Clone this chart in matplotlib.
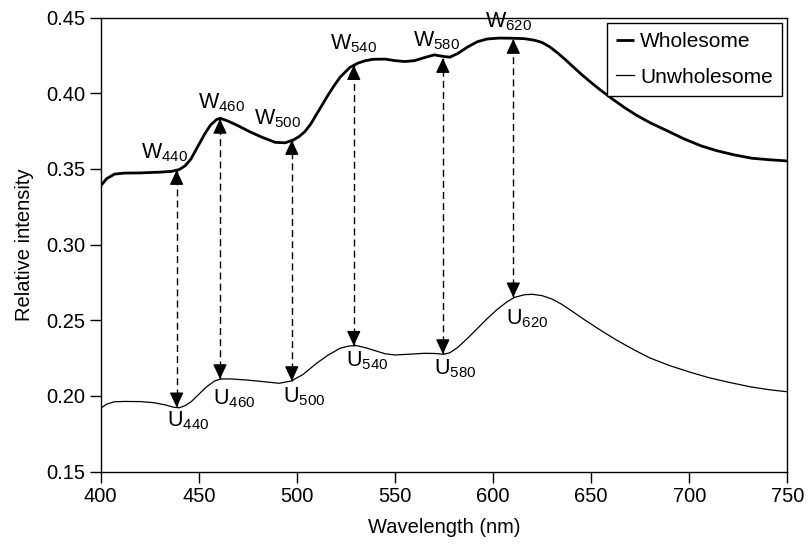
import matplotlib
matplotlib.use("Agg")
import matplotlib.pyplot as plt
import numpy as np

plt.rcParams['font.family'] = ['Liberation Sans', 'DejaVu Sans']
plt.rcParams['mathtext.fontset'] = 'custom'
plt.rcParams['mathtext.rm'] = 'Liberation Sans'

# Wholesome spectrum
w_x = [400, 403, 407, 412, 420, 430, 436, 440, 443, 446, 450, 453, 456, 459, 461,
       465, 470, 476, 482, 489, 494, 498, 501, 504, 507, 510, 513, 516, 519, 522,
       527, 531, 535, 539, 545, 550, 555, 560, 565, 570, 575, 578, 582, 587, 592,
       597, 603, 610, 616, 621, 625, 629, 633, 637, 641, 645, 650, 655, 661, 667,
       673, 680, 689, 697, 706, 714, 723, 732, 741, 750]
w_y = [0.3387, 0.3435, 0.3465, 0.3472, 0.3473, 0.3478, 0.3483, 0.3495, 0.3520, 0.3565,
       0.3660, 0.3730, 0.3790, 0.3825, 0.3834, 0.3815, 0.3785, 0.3745, 0.3710, 0.3675,
       0.3672, 0.3690, 0.3712, 0.3745, 0.3795, 0.3860, 0.3925, 0.3990, 0.4050, 0.4105,
       0.4170, 0.4198, 0.4215, 0.4224, 0.4225, 0.4215, 0.4209, 0.4215, 0.4235, 0.4253,
       0.4242, 0.4238, 0.4262, 0.4305, 0.4340, 0.4358, 0.4364, 0.4363, 0.4360, 0.4350,
       0.4335, 0.4305, 0.4265, 0.4220, 0.4172, 0.4125, 0.4070, 0.4018, 0.3960, 0.3905,
       0.3855, 0.3805, 0.3750, 0.3700, 0.3652, 0.3620, 0.3592, 0.3570, 0.3560, 0.3552]

# Unwholesome spectrum
u_x = [400, 403, 407, 412, 420, 427, 433, 437, 440, 443, 446, 450, 454, 458, 461,
       466, 474, 482, 491, 497, 503, 510, 516, 522, 526, 530, 535, 540, 545, 550,
       557, 565, 570, 575, 578, 582, 587, 592, 597, 602, 607, 611, 616, 620, 625,
       630, 635, 640, 646, 655, 663, 672, 680, 690, 700, 710, 720, 731, 741, 750]
u_y = [0.1918, 0.1945, 0.1961, 0.1963, 0.1962, 0.1955, 0.1940, 0.1925, 0.1921, 0.1935,
       0.1960, 0.2010, 0.2060, 0.2098, 0.2111, 0.2112, 0.2105, 0.2095, 0.2083, 0.2098,
       0.2140, 0.2215, 0.2270, 0.2314, 0.2328, 0.2333, 0.2318, 0.2298, 0.2278, 0.2270,
       0.2275, 0.2281, 0.2280, 0.2275, 0.2285, 0.2320, 0.2380, 0.2445, 0.2510, 0.2570,
       0.2620, 0.2651, 0.2668, 0.2671, 0.2662, 0.2640, 0.2605, 0.2562, 0.2508, 0.2432,
       0.2368, 0.2303, 0.2250, 0.2200, 0.2158, 0.2120, 0.2090, 0.2060, 0.2040, 0.2027]

# Marked wavelengths: arrow position, top and bottom tip
mark_names = ["440", "460", "500", "540", "580", "620"]
arrow_x = [438.7, 460.8, 497.4, 529.0, 574.4, 610.3]
arrow_top = [0.3492, 0.3830, 0.3690, 0.4185, 0.4232, 0.4358]
arrow_bot = [0.1924, 0.2111, 0.2098, 0.2331, 0.2276, 0.2651]

# Label centres
w_lab_x = [432.5, 461.7, 490.3, 529.0, 571.4, 607.8]
w_lab_y = [0.3605, 0.3940, 0.3830, 0.4325, 0.4350, 0.4470]
u_lab_x = [444.7, 468.0, 503.6, 535.6, 580.6, 617.6]
u_lab_y = [0.1835, 0.1980, 0.1995, 0.2230, 0.2177, 0.2508]

fig = plt.figure(figsize=(8.09, 5.47), dpi=100)
ax = fig.add_axes([0.1245, 0.138, 0.8487, 0.830])

ax.plot(w_x, w_y, color="black", lw=2.0, label="Wholesome", solid_capstyle="butt")
ax.plot(u_x, u_y, color="black", lw=0.9, label="Unwholesome")

head = "-|>,head_length=0.9,head_width=0.42"
for x, top, bot in zip(arrow_x, arrow_top, arrow_bot):
    ax.plot([x, x], [bot, top], color="black", lw=1.0, linestyle=(0, (5, 3)))
    ax.annotate("", xy=(x, top), xytext=(0, -9), textcoords="offset points",
                arrowprops=dict(arrowstyle=head, color="black", lw=1.0,
                                shrinkA=0, shrinkB=0, mutation_scale=10))
    ax.annotate("", xy=(x, bot), xytext=(0, 9), textcoords="offset points",
                arrowprops=dict(arrowstyle=head, color="black", lw=1.0,
                                shrinkA=0, shrinkB=0, mutation_scale=10))

for name, x, y in zip(mark_names, w_lab_x, w_lab_y):
    ax.text(x, y, r"$\mathregular{W_{%s}}$" % name, ha="center", va="center",
            fontsize=15.5, clip_on=False)
for name, x, y in zip(mark_names, u_lab_x, u_lab_y):
    ax.text(x, y, r"$\mathregular{U_{%s}}$" % name, ha="center", va="center",
            fontsize=15.5)

ax.set_xlim(400, 750)
ax.set_ylim(0.15, 0.45)
ax.set_xticks(np.arange(400, 751, 50))
ax.set_yticks(np.arange(0.15, 0.451, 0.05))
ax.set_yticklabels(["%.2f" % v for v in np.arange(0.15, 0.451, 0.05)])
ax.tick_params(direction="out", length=8, width=1, labelsize=14.5, pad=3)
for s in ax.spines.values():
    s.set_linewidth(1.0)

ax.set_xlabel("Wavelength (nm)", fontsize=14.5, labelpad=9)
ax.set_ylabel("Relative intensity", fontsize=14.5, labelpad=9)

leg = ax.legend(loc="upper right", fontsize=15, fancybox=False, framealpha=1,
                edgecolor="black", borderaxespad=0.25, handlelength=0.85,
                handletextpad=0.3, labelspacing=0.8, borderpad=0.45)
leg.get_frame().set_linewidth(1.0)

fig.savefig("out.png", dpi=100)
